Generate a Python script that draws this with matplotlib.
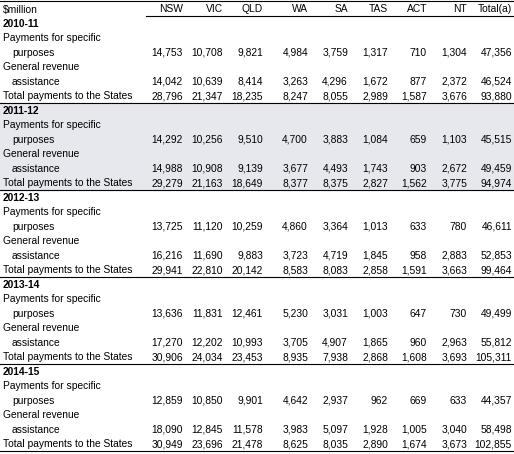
import matplotlib.pyplot as plt
from matplotlib.patches import Rectangle

columns = ['NSW', 'VIC', 'QLD', 'WA', 'SA', 'TAS', 'ACT', 'NT', 'Total(a)']
years = ['2010-11', '2011-12', '2012-13', '2013-14', '2014-15']
specific = [
    [14753, 10708, 9821, 4984, 3759, 1317, 710, 1304, 47356],
    [14292, 10256, 9510, 4700, 3883, 1084, 659, 1103, 45515],
    [13725, 11120, 10259, 4860, 3364, 1013, 633, 780, 46611],
    [13636, 11831, 12461, 5230, 3031, 1003, 647, 730, 49499],
    [12859, 10850, 9901, 4642, 2937, 962, 669, 633, 44357],
]
general = [
    [14042, 10639, 8414, 3263, 4296, 1672, 877, 2372, 46524],
    [14988, 10908, 9139, 3677, 4493, 1743, 903, 2672, 49459],
    [16216, 11690, 9883, 3723, 4719, 1845, 958, 2883, 52853],
    [17270, 12202, 10993, 3705, 4907, 1865, 960, 2963, 55812],
    [18090, 12845, 11578, 3983, 5097, 1928, 1005, 3040, 58498],
]
total = [
    [28796, 21347, 18235, 8247, 8055, 2989, 1587, 3676, 93880],
    [29279, 21163, 18649, 8377, 8375, 2827, 1562, 3775, 94974],
    [29941, 22810, 20142, 8583, 8083, 2858, 1591, 3663, 99464],
    [30906, 24034, 23453, 8935, 7938, 2868, 1608, 3693, 105311],
    [30949, 23696, 21478, 8625, 8035, 2890, 1674, 3673, 102855],
]

W, H = 514, 454
fig = plt.figure(figsize=(W / 100, H / 100), dpi=100)
ax = fig.add_axes([0, 0, 1, 1])
ax.set_xlim(0, W)
ax.set_ylim(H, 0)
ax.axis('off')

font = dict(family='Liberation Sans', fontsize=7.4, va='baseline')
col_x = [183, 223, 263, 308, 348, 388, 427, 467, 512]
row_h = 14.5
top = 16
base = 3.5  # baseline offset below row centre

# header
ax.text(3, 9 + base, '$million', ha='left', **font)
for c, x in zip(columns, col_x):
    ax.text(x, 9 + base, c, ha='right', **font)
ax.plot([146, W], [top, top], color='black', lw=0.8)
ax.plot([0, W], [0.5, 0.5], color='black', lw=0.8)

for i, yr in enumerate(years):
    y0 = top + i * 6 * row_h
    if i == 1:
        ax.add_patch(Rectangle((0, y0), W, 6 * row_h, color='#E6E8EE', zorder=0))
    ys = [y0 + (k + 0.5) * row_h + base for k in range(6)]
    ax.text(3, ys[0], yr, ha='left', fontweight='bold', **font)
    ax.text(3, ys[1], 'Payments for specific', ha='left', **font)
    ax.text(12, ys[2], 'purposes', ha='left', **font)
    ax.text(3, ys[3], 'General revenue', ha='left', **font)
    ax.text(12, ys[4], 'assistance', ha='left', **font)
    ax.text(3, ys[5], 'Total payments to the States', ha='left', **font)
    for row, y in ((specific[i], ys[2]), (general[i], ys[4]), (total[i], ys[5])):
        for v, x in zip(row, col_x):
            ax.text(x, y, f'{v:,}', ha='right', **font)
    ax.plot([0, W], [y0 + 6 * row_h] * 2, color='black', lw=0.8)

fig.savefig('out.png', dpi=100)
